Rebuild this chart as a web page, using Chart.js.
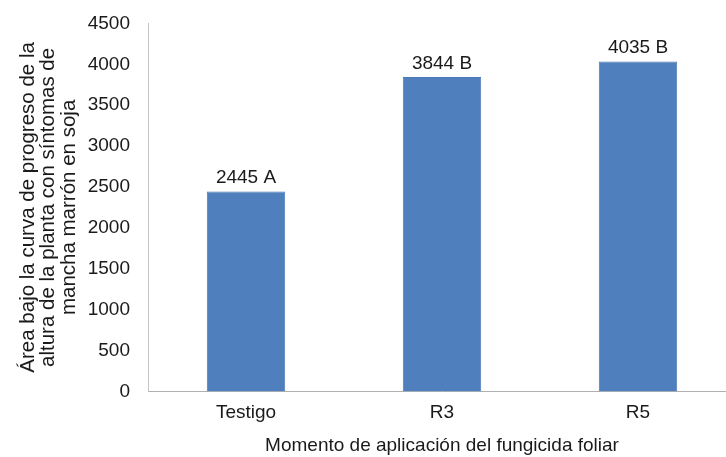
<!DOCTYPE html>
<html>
<head>
<meta charset="utf-8">
<script src="https://cdn.jsdelivr.net/npm/chart.js@4"></script>
<style>
html,body{margin:0;padding:0;background:#fff;overflow:hidden;}
#wrap{width:736px;height:463px;position:relative;margin-top:-6px;}
</style>
</head>
<body>
<div id="wrap"><canvas id="c"></canvas></div>
<script>
const categories = ["Testigo", "R3", "R5"];
const values = [2445, 3844, 4035];
const letters = ["A", "B", "B"];
const yTitle = ["Área bajo la curva de progreso de la", "altura de la planta con síntomas de", "mancha marrón en soja"];
const xTitle = "Momento de aplicación del fungicida foliar";

const FONT = "'Liberation Sans', Arial, sans-serif";
const TXT = "#1a1a1a";
const FS = 19;
const LEFT_PAD = 18;
const AXIS_X = 148;

const labelPlugin = {
  id: "barLabels",
  afterDatasetsDraw(chart) {
    const ctx = chart.ctx;
    const meta = chart.getDatasetMeta(0);
    ctx.save();
    ctx.font = FS + "px " + FONT;
    ctx.fillStyle = TXT;
    ctx.textAlign = "center";
    ctx.textBaseline = "alphabetic";
    meta.data.forEach((bar, i) => {
      ctx.fillText(values[i] + " " + letters[i], bar.x, bar.y - 8);
    });
    ctx.restore();
  }
};

new Chart(document.getElementById("c"), {
  type: "bar",
  data: {
    labels: categories,
    datasets: [{
      data: values,
      backgroundColor: "#4f80bd",
      borderColor: "#4a7ab5",
      borderWidth: 1,
      barPercentage: 0.4,
      categoryPercentage: 1.0
    }]
  },
  options: {
    responsive: true,
    maintainAspectRatio: false,
    animation: false,
    layout: { padding: { top: 0, right: 0, bottom: 0, left: LEFT_PAD } },
    plugins: { legend: { display: false }, tooltip: { enabled: false } },
    scales: {
      x: {
        grid: { display: false, drawTicks: false },
        border: { display: true, color: "#b0b0b0", width: 1 },
        ticks: { color: TXT, font: { family: FONT, size: FS }, padding: 10 },
        title: { display: true, text: xTitle, color: TXT, font: { family: FONT, size: FS }, padding: { top: 0, bottom: 0 } }
      },
      y: {
        min: 0, max: 4500,
        grid: { display: false, drawTicks: false },
        border: { display: true, color: "#c4c4c4", width: 1 },
        ticks: { stepSize: 500, color: TXT, font: { family: FONT, size: FS }, padding: 18,
                 callback: (v) => String(v) },
        title: { display: true, text: yTitle, color: TXT, font: { family: FONT, size: 20.5, lineHeight: 1.0 }, padding: { top: 0, bottom: 0 } },
        afterFit: (scale) => { scale.width = AXIS_X - LEFT_PAD; }
      }
    }
  },
  plugins: [labelPlugin]
});
</script>
</body>
</html>
